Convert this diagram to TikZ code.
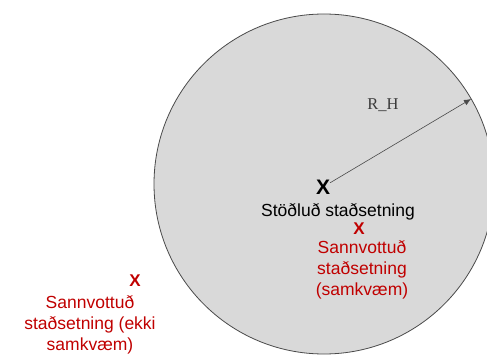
\documentclass[tikz,border=0pt]{standalone}
\usepackage{fontspec}
\setmainfont{Liberation Sans}
\newfontfamily\rhfont{Liberation Serif}
\usetikzlibrary{positioning,calc,arrows.meta}
\definecolor{circfill}{HTML}{D9D9D9}
\definecolor{circline}{HTML}{4A4A4A}
\definecolor{sannred}{HTML}{C00000}

\begin{document}
\begin{tikzpicture}[x=1pt,y=-1pt]
              \tikzset{>={Latex[length=7pt,width=6pt]}}
              \tikzstyle{rvector}=[->,circline,semithick,line cap=round]
              \tikzstyle{xsign}=[inner sep=0pt,font=\fontsize{21}{21}\selectfont\bfseries]
              \tikzstyle{rxsign}=[xsign,text=sannred,font=\fontsize{17}{17}\selectfont\bfseries]
              \tikzstyle{label}=[inner sep=0pt,align=center,font=\fontsize{17.5}{21}\selectfont]

              \useasboundingbox (0,0) rectangle (487,358);
              \clip (0,0) rectangle (487,358);

              % CONSTANTS
              \coordinate (C) at (324,184);
              \coordinate (E) at ($(C)+(147,-85)$);
              \fill[circfill] (C) circle[radius=170];
              \draw[circline,thick] (C) circle[radius=170];

              \node[xsign] (stdx) at (323,187) {X};
              \draw[rvector] (stdx) -- (E);
              \node[inner sep=0pt,text=circline!80!black,font=\rhfont\fontsize{16.5}{16.5}\selectfont] (rh) at (383,105) {R\_H};

              \node[label] (std) at (338,212) {Stöðluð staðsetning};
              \node[rxsign] (inx) at (359,229) {X};
              \node[label,text=sannred] (insann) at (362,270) {Sannvottuð\\staðsetning\\(samkvæm)};

              \node[rxsign] (outx) at (135,281) {X};
              \node[label,text=sannred] (outsann) at (90,325) {Sannvottuð\\staðsetning (ekki\\samkvæm)};
            \end{tikzpicture}
\end{document}
